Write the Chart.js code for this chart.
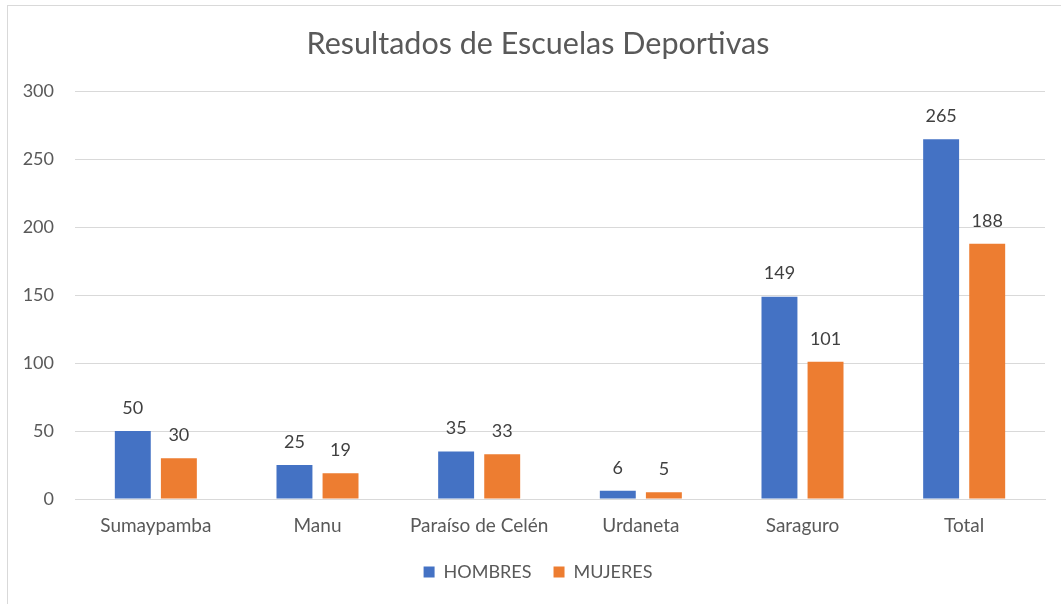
<!DOCTYPE html>
<html><head><meta charset="utf-8">
<script src="https://cdn.jsdelivr.net/npm/chart.js@4"></script>
<style>
html,body{margin:0;padding:0;background:#fff;overflow:hidden;width:1061px;height:604px;}
#box{position:absolute;left:7px;top:5px;width:1080px;height:640px;border:1px solid #d9d9d9;box-sizing:border-box;}
#wrap{position:absolute;left:8px;top:6px;width:1060px;height:620px;}
</style></head><body>
<div id="box"></div>
<div id="wrap"><canvas id="c" width="1060" height="620"></canvas></div>
<script>
const titleText = 'Resultados de Escuelas Deportivas';
const categories = ['Sumaypamba','Manu','Paraíso de Celén','Urdaneta','Saraguro','Total'];
const hombres = [50,25,35,6,149,265];
const mujeres = [30,19,33,5,101,188];
const seriesNames = ['HOMBRES','MUJERES'];
const yTicks = [0,50,100,150,200,250,300];

const FONT = 'Lato, "Open Sans", sans-serif';
const canvas = document.getElementById('c');
const mctx = canvas.getContext('2d');
mctx.font = '18px ' + FONT;
const widestTick = Math.max(...yTicks.map(v => mctx.measureText(String(v)).width));

const labelPlugin = {
  id:'vals',
  afterDatasetsDraw(chart){
    const ctx = chart.ctx;
    ctx.save();
    ctx.font = '18px ' + FONT;
    ctx.fillStyle = '#404040';
    ctx.textAlign = 'center';
    ctx.textBaseline = 'middle';
    chart.data.datasets.forEach((ds,i)=>{
      chart.getDatasetMeta(i).data.forEach((bar,j)=>{
        ctx.fillText(String(ds.data[j]), bar.x, bar.y - 23);
      });
    });
    ctx.restore();
  }
};

new Chart(canvas, {
  type:'bar',
  data:{
    labels:categories,
    datasets:[
      {label:seriesNames[0], data:hombres, backgroundColor:'#4472C4', categoryPercentage:0.57, barPercentage:0.78},
      {label:seriesNames[1], data:mujeres, backgroundColor:'#ED7D31', categoryPercentage:0.57, barPercentage:0.78}
    ]
  },
  options:{
    responsive:false,
    animation:false,
    devicePixelRatio:1,
    layout:{padding:{left:23,right:23,top:0,bottom:35}},
    plugins:{
      title:{display:true,text:titleText,color:'#595959',font:{family:FONT,size:30.5,weight:'normal'},padding:{top:20,bottom:29}},
      legend:{position:'bottom',labels:{color:'#595959',font:{family:FONT,size:18},boxWidth:11,boxHeight:11,padding:22}},
      tooltip:{enabled:false}
    },
    scales:{
      x:{
        grid:{display:false,drawTicks:false},
        border:{display:true,color:'#d9d9d9',width:1},
        ticks:{color:'#595959',font:{family:FONT,size:19},padding:15,maxRotation:0},
        afterFit(s){s.height=42;}
      },
      y:{
        min:0,max:300,
        afterBuildTicks(s){s.ticks=yTicks.map(v=>({value:v}));},
        grid:{color:'#d9d9d9',drawTicks:false},
        border:{display:false},
        ticks:{color:'#595959',font:{family:FONT,size:18},mirror:true,crossAlign:'far',padding:-(21+widestTick)},
        afterFit(s){s.width=44;}
      }
    }
  },
  plugins:[labelPlugin]
});
</script>
</body></html>
